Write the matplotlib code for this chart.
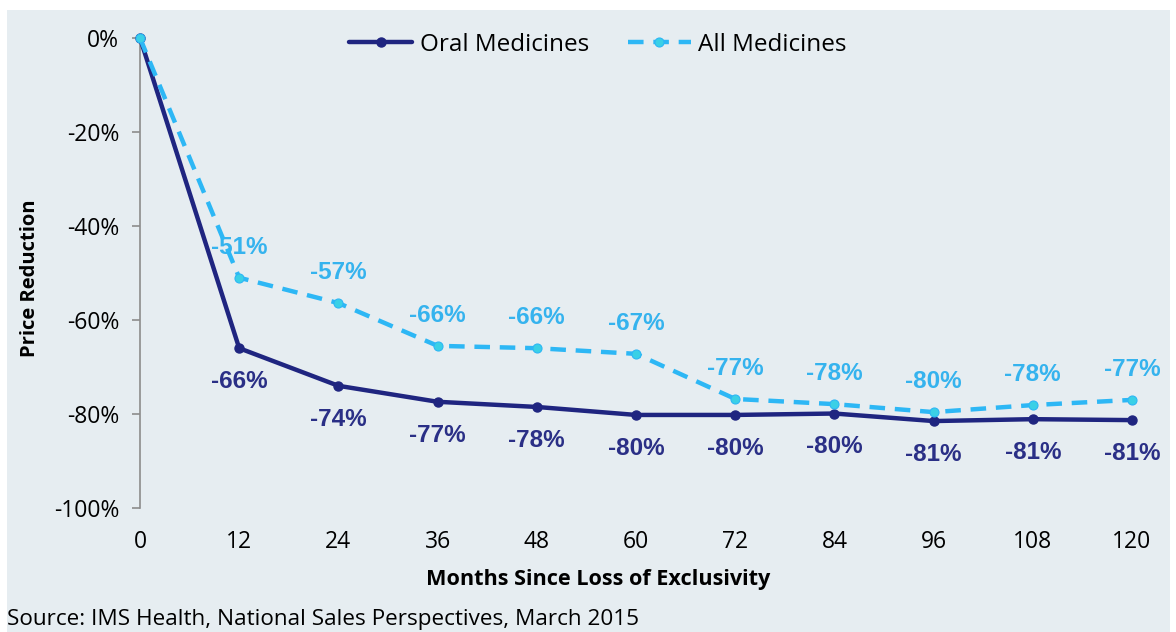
import matplotlib
matplotlib.use("Agg")
import matplotlib.pyplot as plt
from matplotlib.patches import Rectangle

months = [0, 12, 24, 36, 48, 60, 72, 84, 96, 108, 120]
oral = [0.0, -0.66, -0.74, -0.774, -0.785, -0.802, -0.802, -0.799, -0.815, -0.811, -0.813]
allmed = [0.0, -0.51, -0.564, -0.655, -0.66, -0.672, -0.768, -0.779, -0.796, -0.781, -0.77]
oral_labels = ["", "-66%", "-74%", "-77%", "-78%", "-80%", "-80%", "-80%", "-81%", "-81%", "-81%"]
all_labels = ["", "-51%", "-57%", "-66%", "-66%", "-67%", "-77%", "-78%", "-80%", "-78%", "-77%"]
yticks = [0, -0.2, -0.4, -0.6, -0.8, -1.0]
ytick_labels = ["0%", "-20%", "-40%", "-60%", "-80%", "-100%"]

W, H = 1176, 632
fig = plt.figure(figsize=(W / 100, H / 100), dpi=100, facecolor="white")
bg = "#E6EDF1"
rect = Rectangle((7 / W, 0), (1170 - 7) / W, 1 - 10 / H,
                 transform=fig.transFigure, facecolor=bg,
                 edgecolor="none", zorder=-10)
fig.add_artist(rect)

x0, x120 = 140, 1132
ax = fig.add_axes([x0 / W, 1 - 508 / H, (1165 - x0) / W, (508 - 38) / H])
ax.set_zorder(5)
ax.set_facecolor("none")
ax.set_xlim(0, 120 * (1165 - x0) / (x120 - x0))
ax.set_ylim(-1.0, 0)

navy = "#1F2580"
light = "#2DB7F5"
cyan = "#3AD0E6"
FONT = "Open Sans"

ax.plot(months, oral, color=navy, lw=3.2, marker="o", ms=6.5,
        mfc=navy, mec=navy, clip_on=False, zorder=3, label="Oral Medicines",
        solid_capstyle="round")
ax.plot(months, allmed, color=light, lw=3.2, ls=(0, (3.5, 2.2)), marker="o", ms=6.5,
        mfc=cyan, mec=light, mew=0.8, clip_on=False, zorder=4, label="All Medicines")

for m, v, t in zip(months, oral, oral_labels):
    if t:
        ax.annotate(t, (m, v), xytext=(0, -24), textcoords="offset points",
                    ha="center", va="center", fontsize=17.5, fontweight="bold",
                    color="#2A2F86", family="Liberation Sans")
for m, v, t in zip(months, allmed, all_labels):
    if t:
        ax.annotate(t, (m, v), xytext=(0, 22), textcoords="offset points",
                    ha="center", va="center", fontsize=17.5, fontweight="bold",
                    color="#35B3EE", family="Liberation Sans")

for s in ["top", "right", "bottom"]:
    ax.spines[s].set_visible(False)
ax.spines["left"].set_color("#8C8C8C")
ax.spines["left"].set_linewidth(1.2)

ax.set_yticks(yticks)
ax.set_yticklabels(ytick_labels, family=FONT, fontsize=16.5)
ax.set_xticks(months)
ax.set_xticklabels([str(m) for m in months], family=FONT, fontsize=16.5)
ax.tick_params(axis="y", length=6, color="#8C8C8C", width=1.2, pad=9)
ax.tick_params(axis="x", length=0, pad=16)

ax.set_ylabel("Price Reduction", family=FONT, fontweight="bold", fontsize=14.5)
ax.yaxis.set_label_coords(-110 / 1025, 0.49)
ax.set_xlabel("Months Since Loss of Exclusivity", family=FONT, fontweight="bold",
              fontsize=15.6)
ax.xaxis.set_label_coords((598 - 140) / 1025, -(580 - 508) / 470)
ax.xaxis.label.set_va("center")
ax.yaxis.label.set_va("center")

leg = ax.legend(loc="center", bbox_to_anchor=((598 - 140) / 1025, 1 + (38 - 45) / 470),
                ncol=2, frameon=False,
                prop={"family": FONT, "size": 17.5}, handlelength=2.6,
                columnspacing=1.6, handletextpad=0.3)

fig.text(7 / W, 1 - 620 / H, "Source: IMS Health, National Sales Perspectives, March 2015",
         family=FONT, fontsize=16.2, ha="left", va="center")

fig.savefig("out.png", dpi=100, facecolor="white")
